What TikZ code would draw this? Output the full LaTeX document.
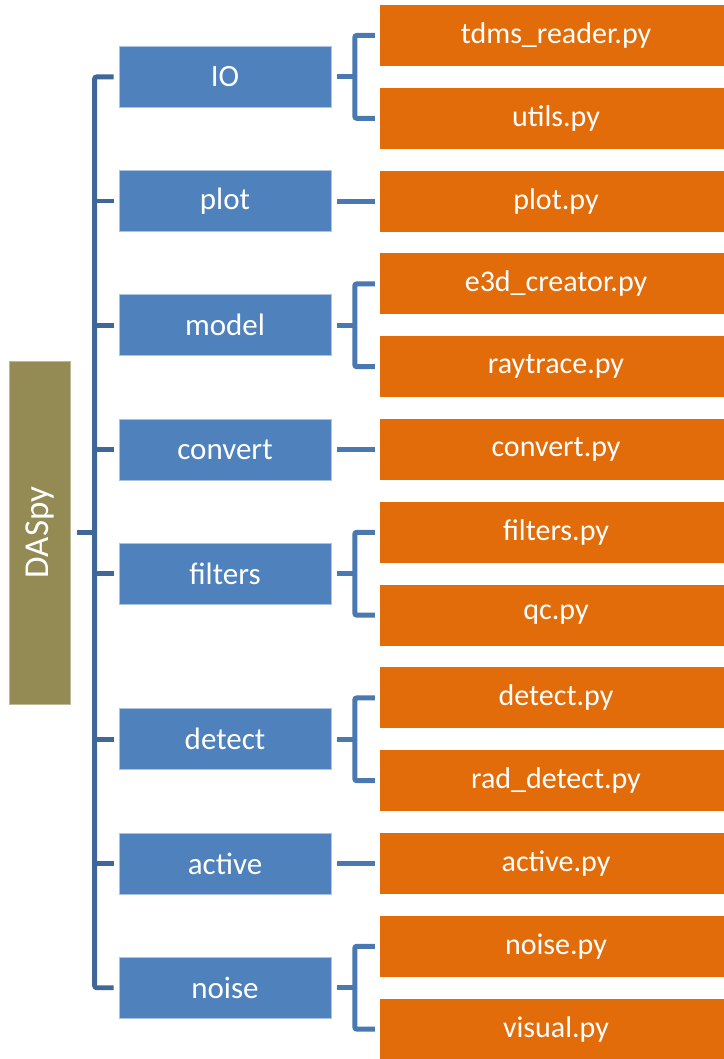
\documentclass[tikz,border=0pt]{standalone}
\usepackage{fontspec}
\setmainfont{Carlito}
\definecolor{modblue}{RGB}{79,129,189}
\definecolor{modedge}{RGB}{170,195,225}
\definecolor{fileorange}{RGB}{227,108,10}
\definecolor{rootolive}{RGB}{148,138,84}
\definecolor{trunkcol}{RGB}{63,103,152}
\definecolor{linkcol}{RGB}{74,120,176}
\begin{document}
\begin{tikzpicture}[x=1pt,y=-1pt,
  modbox/.style={rectangle,fill=modblue,draw=modedge,line width=0.8pt,minimum width=212pt,minimum height=61pt,inner sep=0pt,text=white,font=\fontsize{31}{37}\selectfont},
  filebox/.style={rectangle,fill=fileorange,minimum width=352pt,minimum height=61pt,inner sep=0pt,text=white,font=\fontsize{30}{36}\selectfont},
  rootbox/.style={rectangle,fill=rootolive,draw=rootolive!60!white,line width=0.6pt,minimum width=61pt,minimum height=343pt,inner sep=0pt,text=white,font=\fontsize{35}{42}\selectfont},
  trunkline/.style={draw=trunkcol,line width=4.8pt,rounded corners=2pt},
  linkline/.style={draw=linkcol,line width=5pt,rounded corners=2pt}]
\useasboundingbox (0,0) rectangle (723,1059);
% root
\node[rootbox] (daspy) at (40,532.5) {\rotatebox{90}{DASpy}};
% modules
\node[modbox] (io) at (225,76.9) {IO};
\node[modbox] (plot) at (225,201.1) {plot};
\node[modbox] (model) at (225,325.3) {model};
\node[modbox] (convert) at (225,449.5) {convert};
\node[modbox] (filters) at (225,573.7) {filters};
\node[modbox] (detect) at (225,739.3) {detect};
\node[modbox] (active) at (225,863.5) {active};
\node[modbox] (noise) at (225,987.7) {noise};
% files
\node[filebox] (tdms) at (556,35.5) {tdms\_reader.py};
\node[filebox] (utils) at (556,118.3) {utils.py};
\node[filebox] (plotpy) at (556,201.1) {plot.py};
\node[filebox] (e3d) at (556,283.9) {e3d\_creator.py};
\node[filebox] (ray) at (556,366.7) {raytrace.py};
\node[filebox] (convpy) at (556,449.5) {convert.py};
\node[filebox] (filtpy) at (556,532.3) {filters.py};
\node[filebox] (qc) at (556,615.1) {qc.py};
\node[filebox] (detpy) at (556,697.9) {detect.py};
\node[filebox] (rad) at (556,780.7) {rad\_detect.py};
\node[filebox] (actpy) at (556,863.5) {active.py};
\node[filebox] (noisepy) at (556,946.3) {noise.py};
\node[filebox] (visual) at (556,1029.1) {visual.py};
% trunk
\draw[trunkline] ([xshift=-5pt]io.west) -- ++(-19,0) |- ([xshift=-5pt]noise.west);
\foreach \m in {plot,model,convert,filters,detect,active}
  \draw[trunkline] ([xshift=-5pt]\m.west) -- ++(-19,0);
\draw[trunkline] ([xshift=6pt]daspy.east) -- ++(19,0);
% single links
\draw[linkline] ([xshift=6pt]plot.east) -- ([xshift=-5pt]plotpy.west);
\draw[linkline] ([xshift=6pt]convert.east) -- ([xshift=-5pt]convpy.west);
\draw[linkline] ([xshift=6pt]active.east) -- ([xshift=-5pt]actpy.west);
% brackets
\foreach \m/\a/\b in {io/tdms/utils,model/e3d/ray,filters/filtpy/qc,detect/detpy/rad,noise/noisepy/visual}{
  \draw[linkline] ([xshift=6pt]\m.east) -- ++(19,0);
  \draw[linkline] ([xshift=-5pt]\a.west) -- ++(-20,0) |- ([xshift=-5pt]\b.west);
}
\end{tikzpicture}
\end{document}
